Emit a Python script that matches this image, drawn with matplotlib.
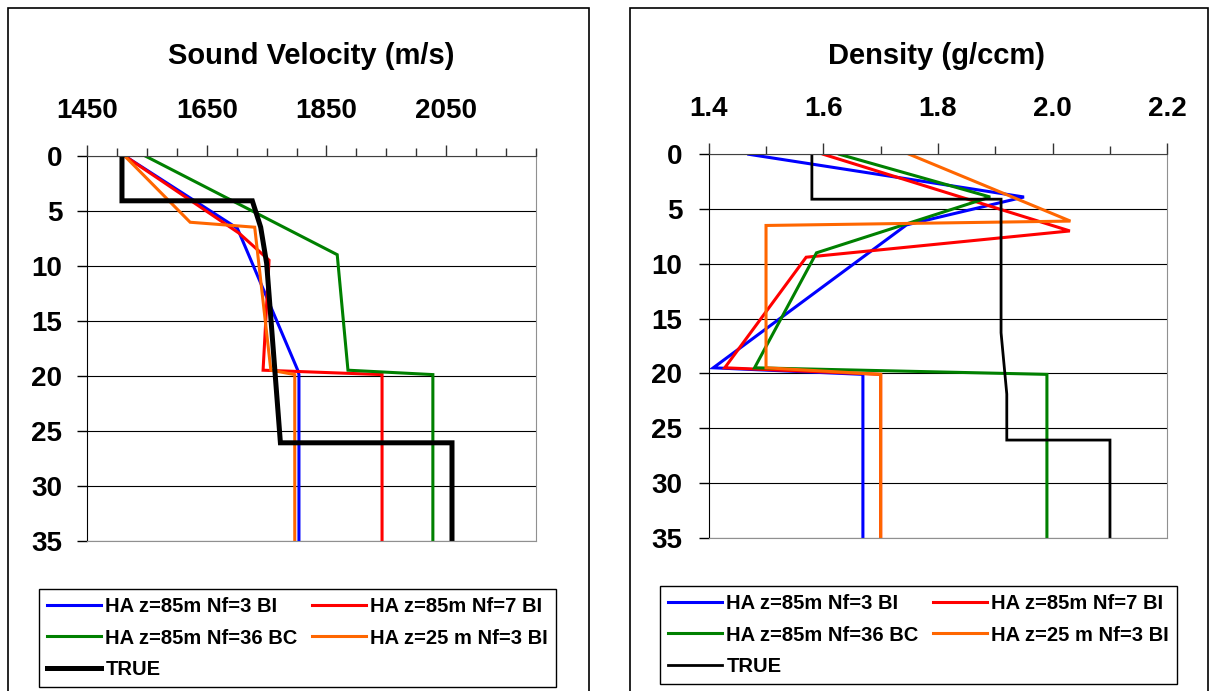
import matplotlib.pyplot as plt
import numpy as np
from matplotlib.ticker import MultipleLocator, FormatStrFormatter
from matplotlib.patches import Rectangle

# ---------------- dados ----------------
labels = ["HA z=85m Nf=3 BI", "HA z=85m Nf=7 BI", "HA z=85m Nf=36 BC",
          "HA z=25 m Nf=3 BI", "TRUE"]
cores = ["#0000FF", "#FF0000", "#008000", "#FF6600", "#000000"]

# velocidade do som (m/s) x profundidade
vel_blue_z = [0, 6.6, 19.5, 19.9, 35]
vel_blue = [1512, 1701, 1802, 1804, 1804]
vel_red_z = [0, 7.05, 9.5, 19.5, 19.9, 35]
vel_red = [1512, 1704, 1754, 1744, 1943, 1943]
vel_green_z = [0, 9.0, 19.5, 19.9, 35]
vel_green = [1546, 1868, 1886, 2028, 2028]
vel_orange_z = [0, 6.05, 6.5, 19.5, 19.9, 35]
vel_orange = [1512, 1622, 1730, 1757, 1797, 1797]
vel_true_z = [0, 4.1, 4.1, 6.5, 9.8, 26.1, 26.1, 35]
vel_true = [1508, 1508, 1726, 1740, 1750, 1773, 2060, 2060]

# densidade (g/ccm) x profundidade
den_blue_z = [0, 3.9, 6.45, 19.5, 20.1, 35]
den_blue = [1.47, 1.95, 1.745, 1.408, 1.669, 1.669]
den_red_z = [0, 7.0, 9.4, 19.5, 20.1, 35]
den_red = [1.60, 2.03, 1.57, 1.428, 1.70, 1.70]
den_green_z = [0, 3.9, 9.0, 19.5, 20.1, 35]
den_green = [1.628, 1.891, 1.588, 1.480, 1.990, 1.990]
den_orange_z = [0, 6.1, 6.5, 19.5, 20.1, 35]
den_orange = [1.75, 2.031, 1.50, 1.50, 1.70, 1.70]
den_true_z = [0, 4.1, 4.1, 16.3, 21.9, 26.1, 26.1, 35]
den_true = [1.58, 1.58, 1.91, 1.91, 1.92, 1.92, 2.10, 2.10]

# ---------------- figura ----------------
plt.rcParams['font.family'] = ['Liberation Sans', 'DejaVu Sans']
plt.rcParams['font.weight'] = 'bold'

W, H = 1209, 691
fig = plt.figure(figsize=(W / 100, H / 100), dpi=100)


def px_axes(x0, y0, x1, y1):
    return fig.add_axes([x0 / W, 1 - y1 / H, (x1 - x0) / W, (y1 - y0) / H])


def estilo(ax, xmin, xmax, major, minor, ypad):
    ax.set_xlim(xmin, xmax)
    ax.set_ylim(35, 0)
    ax.xaxis.tick_top()
    ax.set_xticks(np.arange(xmin, xmax + minor / 2, major))
    ax.set_xticks(np.arange(xmin, xmax + minor / 2, minor), minor=True)
    ax.yaxis.set_major_locator(MultipleLocator(5))
    ax.grid(axis='y', color='black', lw=0.8)
    ax.set_axisbelow(True)
    ax.tick_params(axis='x', which='major', length=8, width=1, pad=15,
                   labelsize=20, color='#333333')
    ax.tick_params(axis='x', which='minor', length=6, width=1, color='#333333')
    ax.tick_params(axis='y', length=7, width=1, pad=ypad, labelsize=20)
    ax.spines['left'].set_color('black')
    ax.spines['top'].set_color('#404040')
    ax.spines['right'].set_color('#909090')
    ax.spines['bottom'].set_color('#909090')


# painel esquerdo: velocidade
ax1 = px_axes(87.3, 155.7, 535.7, 540.7)
vel = [(vel_blue, vel_blue_z), (vel_red, vel_red_z), (vel_green, vel_green_z),
       (vel_orange, vel_orange_z), (vel_true, vel_true_z)]
linhas1 = []
for (x, z), c, lab in zip(vel, cores, labels):
    lw = 3.6 if lab == "TRUE" else 2.2
    l, = ax1.plot(x, z, color=c, lw=lw, label=lab, solid_joinstyle='miter')
    linhas1.append(l)
estilo(ax1, 1450, 2200, 200, 50, 11)
ax1.xaxis.set_major_formatter(FormatStrFormatter('%d'))

# painel direito: densidade
ax2 = px_axes(708.7, 154.3, 1167.3, 537.5)
den = [(den_blue, den_blue_z), (den_red, den_red_z), (den_green, den_green_z),
       (den_orange, den_orange_z), (den_true, den_true_z)]
linhas2 = []
for (x, z), c, lab in zip(den, cores, labels):
    lw = 2.0 if lab == "TRUE" else 2.2
    l, = ax2.plot(x, z, color=c, lw=lw, label=lab, solid_joinstyle='miter')
    linhas2.append(l)
estilo(ax2, 1.4, 2.2, 0.2, 0.1, 12)
ax2.xaxis.set_major_formatter(FormatStrFormatter('%.1f'))

# titulos
fig.text(311 / W, 1 - 56 / H, "Sound Velocity (m/s)", ha='center', va='center',
         fontsize=21, fontweight='bold')
fig.text(937 / W, 1 - 56 / H, "Density (g/ccm)", ha='center', va='center',
         fontsize=21, fontweight='bold')

# legendas (ordem por coluna: azul, verde, TRUE | vermelho, laranja)
ordem = [0, 2, 4, 1, 3]
for linhas, (lx0, ly0, lx1, ly1) in [(linhas1, (39, 589, 556, 689)),
                                      (linhas2, (660, 586, 1177, 687))]:
    leg = fig.legend([linhas[i] for i in ordem], [labels[i] for i in ordem],
                     loc='upper left', ncol=2, mode='expand',
                     bbox_to_anchor=(lx0 / W, 1 - ly1 / H, (lx1 - lx0) / W, (ly1 - ly0) / H),
                     borderaxespad=0, fontsize=14.5, fancybox=False, framealpha=1,
                     edgecolor='black', handlelength=2.7, handletextpad=0.2,
                     columnspacing=0.4, labelspacing=0.62, borderpad=0.4)
    leg.get_frame().set_linewidth(1)

# molduras das areas de grafico
for bx0, bx1 in [(7.5, 589), (630, 1207.5)]:
    fig.add_artist(Rectangle((bx0 / W, -0.1), (bx1 - bx0) / W, 1 - 8 / H + 0.1,
                             transform=fig.transFigure, fill=False,
                             edgecolor='black', lw=1.2))

plt.savefig("out.png", dpi=100)
